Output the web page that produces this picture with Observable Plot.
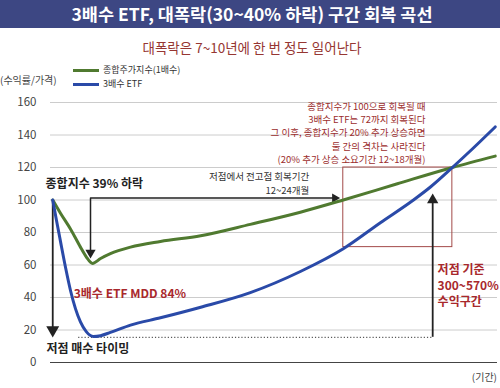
<!DOCTYPE html>
<html><head><meta charset="utf-8">
<script src="https://cdn.jsdelivr.net/npm/d3@7"></script>
<script src="https://cdn.jsdelivr.net/npm/@observablehq/plot@0.6"></script>
<style>
body{margin:0;background:#fff;font-family:"Noto Sans CJK KR","Noto Sans",sans-serif;}
#wrap{position:relative;width:500px;height:388px;overflow:hidden;background:#fff;}
.banner{position:absolute;left:0;top:0;width:500px;height:28px;background:#3d4783;color:#fff;font-weight:700;font-size:17.5px;line-height:28px;text-align:center;padding-left:4px;box-sizing:border-box;white-space:nowrap;}
.sub{position:absolute;left:0;top:38px;width:500px;padding-left:4px;box-sizing:border-box;text-align:center;font-size:13.5px;line-height:18px;color:#963632;white-space:nowrap;}
.sw{position:absolute;left:73px;width:26px;height:3px;}
.lg{position:absolute;left:103px;font-size:9px;line-height:12px;color:#333;white-space:nowrap;}
.yl{position:absolute;left:0;top:73px;font-size:10px;line-height:14px;color:#444;white-space:nowrap;}
.xl{position:absolute;right:3px;top:370px;font-size:10px;line-height:14px;color:#444;white-space:nowrap;}
#chart{position:absolute;left:0;top:92px;}
</style></head>
<body><div id="wrap">
<div class="banner" id="title"></div>
<div class="sub" id="subtitle"></div>
<div class="sw" style="top:69px;background:#507a30"></div><div class="lg" id="lg0" style="top:64px"></div>
<div class="sw" style="top:83px;background:#2a4aa8"></div><div class="lg" id="lg1" style="top:78px"></div>
<div class="yl" id="ylab"></div>
<div class="xl" id="xlab"></div>
<div id="chart"></div>
</div>
<script>
const titleText = "3배수 ETF, 대폭락(30~40% 하락) 구간 회복 곡선";
const subtitleText = "대폭락은 7~10년에 한 번 정도 일어난다";
const seriesNames = ["종합주가지수(1배수)", "3배수 ETF"];
const yLabel = "(수익률/가격)";
const xLabel = "(기간)";
const yTicks = [0, 20, 40, 60, 80, 100, 120, 140, 160];

// period index (0-100) and value
const indexX = [0.5, 2.2, 4.5, 6.7, 8, 9.4, 11.2, 13.4, 17.9, 24.6, 33.6, 44.7, 55.9, 65.5, 77.6, 89.9, 99.5];
const indexY = [100, 92, 82, 71, 65, 61, 64, 67, 71, 74.5, 78, 85, 92.5, 100, 110, 120, 127];
const etfX = [0.5, 1.3, 2.2, 3.4, 4.5, 5.6, 6.7, 8, 9.6, 11.2, 13.4, 17.9, 24.6, 33.6, 44.7, 55.9, 65.5, 73.8, 81.2, 85, 89.9, 94.6, 99.5];
const etfY = [100, 88, 75, 58, 44, 33, 25, 19, 16, 16.5, 18.5, 23, 27.5, 34, 43, 56, 70, 86, 100, 108, 120, 132, 145];

const boxRange = {x1: 65.5, x2: 89.9, y1: 71, y2: 120};
const bottomLevel = 15.5;

const notes = [
  {text: "종합지수 39% 하락", x: -1.1, y: 109.5, kind: "bold"},
  {text: "3배수 ETF MDD 84%", x: 5.2, y: 43, kind: "boldred"},
  {text: "저점 매수 타이밍", x: -0.9, y: 8, kind: "bold"},
  {text: "저점 기준\n300~570%\n수익구간", x: 86.6, y: 48, kind: "boldred"}
];
const recoveryNote = {text: "저점에서 전고점 회복기간\n12~24개월", x: 57.9, y: 110.8};
const redNote = {text: "종합지수가 100으로 회복될 때\n3배수 ETF는 72까지 회복된다\n그 이후, 종합지수가 20% 추가 상승하면\n둘 간의 격차는 사라진다\n(20% 추가 상승 소요기간 12~18개월)", x: 83.9, y: 141.7};

document.getElementById("title").textContent = titleText;
document.getElementById("subtitle").textContent = subtitleText;
document.getElementById("lg0").textContent = seriesNames[0];
document.getElementById("lg1").textContent = seriesNames[1];
document.getElementById("ylab").textContent = yLabel;
document.getElementById("xlab").textContent = xLabel;

const green = indexX.map((x, i) => ({x, y: indexY[i]}));
const blue = etfX.map((x, i) => ({x, y: etfY[i]}));
const font = "'Noto Sans CJK KR','Noto Sans',sans-serif";

const plot = Plot.plot({
  width: 500, height: 296,
  marginTop: 10, marginBottom: 26, marginLeft: 50, marginRight: 3,
  x: {domain: [0, 100], axis: null},
  y: {domain: [0, 160], axis: null},
  style: {fontFamily: font, fontSize: "11px", color: "#444", background: "transparent", overflow: "visible"},
  marks: [
    Plot.ruleY(yTicks.filter(d => d > 0), {stroke: "#cccccc", strokeWidth: 1}),
    Plot.ruleY([0], {stroke: "#444", strokeWidth: 1.2}),
    Plot.axisY(yTicks, {tickSize: 0, tickPadding: 14, fontSize: 11.5, fill: "#444"}),
    Plot.ruleY([bottomLevel], {x1: 6.3, x2: 85.5, stroke: "#333", strokeDasharray: "1.2,2", strokeWidth: 1}),
    Plot.rect([boxRange], {x1: "x1", x2: "x2", y1: "y1", y2: "y2", fill: "none", stroke: "#a34a48", strokeWidth: 1}),
    // arrows
    Plot.ruleX([0.5], {y1: 100, y2: 21, stroke: "#222", strokeWidth: 1.8}),
    Plot.dot([{x: 0.5, y: 20}], {x: "x", y: "y", symbol: "triangle", rotate: 180, r: 4.8, fill: "#222", stroke: "none"}),
    Plot.line([{x: 8.95, y: 67}, {x: 8.95, y: 101.2}, {x: 63.5, y: 101.2}], {x: "x", y: "y", stroke: "#222", strokeWidth: 1.5}),
    Plot.dot([{x: 8.95, y: 67.6}], {x: "x", y: "y", symbol: "triangle", rotate: 180, r: 3.8, fill: "#222", stroke: "none"}),
    Plot.dot([{x: 63.6, y: 101.2}], {x: "x", y: "y", symbol: "triangle", rotate: 90, r: 3.4, fill: "#222", stroke: "none"}),
    Plot.ruleX([85.5], {y1: bottomLevel, y2: 100, stroke: "#222", strokeWidth: 1.8}),
    Plot.dot([{x: 85.5, y: 100}], {x: "x", y: "y", symbol: "triangle", r: 4.2, fill: "#222", stroke: "none"}),
    // series
    Plot.line(green, {x: "x", y: "y", curve: "monotone-x", stroke: "#507a30", strokeWidth: 3}),
    Plot.line(blue, {x: "x", y: "y", curve: "monotone-x", stroke: "#2a4aa8", strokeWidth: 3}),
    // notes
    Plot.text(notes.filter(d => d.kind === "bold"), {x: "x", y: "y", text: "text", textAnchor: "start", fontSize: 12, fontWeight: 700, fill: "#222"}),
    Plot.text(notes.filter(d => d.kind === "boldred"), {x: "x", y: "y", text: "text", textAnchor: "start", fontSize: 12, fontWeight: 700, fill: "#a8282c", lineHeight: 1.33}),
    Plot.text([recoveryNote], {x: "x", y: "y", text: "text", textAnchor: "end", fontSize: 9.5, fill: "#333", lineHeight: 1.47}),
    Plot.text([redNote], {x: "x", y: "y", text: "text", textAnchor: "end", fontSize: 9.5, fill: "#9b2d2d", lineHeight: 1.39})
  ]
});
document.getElementById("chart").appendChild(plot);
</script>
</body></html>
